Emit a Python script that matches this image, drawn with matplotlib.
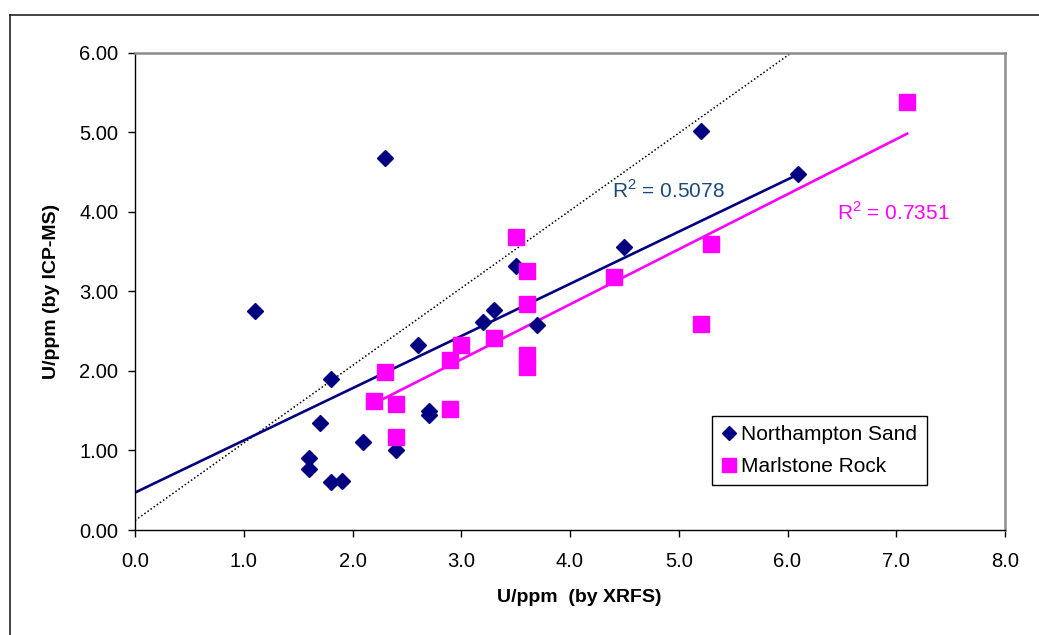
import numpy as np
import matplotlib
matplotlib.use("Agg")
import matplotlib.pyplot as plt
from matplotlib.lines import Line2D

plt.rcParams['font.family'] = ['Liberation Sans', 'DejaVu Sans']
plt.rcParams['mathtext.fontset'] = 'custom'
plt.rcParams['mathtext.rm'] = 'Liberation Sans'

# Northampton Sand (XRFS vs ICP-MS)
ns_x = [1.1, 2.3, 1.8, 1.7, 1.6, 1.6, 1.8, 1.9, 2.1, 2.4, 2.6, 2.7, 2.7,
        3.2, 3.3, 3.5, 3.7, 4.5, 5.2, 6.1]
ns_y = [2.75, 4.68, 1.90, 1.35, 0.90, 0.77, 0.60, 0.62, 1.10, 1.00, 2.33,
        1.50, 1.44, 2.61, 2.76, 3.32, 2.57, 3.55, 5.01, 4.47]

# Marlstone Rock
mr_x = [2.2, 2.3, 2.4, 2.4, 2.9, 2.9, 3.0, 3.3, 3.5, 3.6, 3.6, 3.6, 3.6,
        4.4, 5.2, 5.3, 7.1]
mr_y = [1.62, 1.98, 1.58, 1.17, 2.13, 1.52, 2.33, 2.41, 3.68, 3.26, 2.84,
        2.20, 2.05, 3.18, 2.59, 3.60, 5.38]

# trend lines and the dotted reference line
ns_fit_x = [0.0, 6.1]
ns_fit_y = [0.47, 4.47]
mr_fit_x = [2.2, 7.1]
mr_fit_y = [1.59, 4.98]
ref_x = [0.0, 6.04]
ref_y = [0.12, 6.0]

ns_r2 = "0.5078"
mr_r2 = "0.7351"

navy = '#000080'
pink = '#ff00ff'

W, H = 1039, 635
fig = plt.figure(figsize=(W / 100, H / 100), dpi=100)
ax = fig.add_axes([135 / W, 1 - 530 / H, 870 / W, 477.5 / H])

# outer chart frame (only top and left edges visible)
fig.add_artist(Line2D([10 / W, 1.0], [1 - 15 / H] * 2, color='#222222', lw=1.2))
fig.add_artist(Line2D([10 / W] * 2, [0.0, 1 - 15 / H], color='#222222', lw=1.2))

ax.plot(ref_x, ref_y, color='black', ls=(0, (1, 1.5)), lw=1.1, zorder=1)
ax.plot(ns_fit_x, ns_fit_y, color=navy, lw=1.9, zorder=2)
ax.plot(mr_fit_x, mr_fit_y, color=pink, lw=1.9, zorder=2)

ax.plot(ns_x, ns_y, ls='none', marker='D', ms=7.8, color=navy,
        label='Northampton Sand', zorder=3)
ax.plot(mr_x, mr_y, ls='none', marker='s', ms=11.3, color=pink,
        label='Marlstone Rock', zorder=3)

# R-squared labels, placed in pixel coordinates from the top-left
ax.text(612, H - 190, r'R$^2$ = ' + ns_r2, transform=None, color='#1c4a78',
        fontsize=15, va='center', ha='left')
ax.text(837, H - 212, r'R$^2$ = ' + mr_r2, transform=None, color=pink,
        fontsize=15, va='center', ha='left')

ax.set_xlim(0, 8)
ax.set_ylim(0, 6)
ax.set_xticks(np.arange(0, 8.1, 1.0))
ax.set_yticks(np.arange(0, 6.1, 1.0))
ax.set_xticklabels([f'{v:.1f}' for v in np.arange(0, 8.1, 1.0)])
ax.set_yticklabels([f'{v:.2f}' for v in np.arange(0, 6.1, 1.0)])
ax.tick_params(direction='out', length=5, width=1, labelsize=14.5)
ax.tick_params(axis='x', pad=11)
ax.tick_params(axis='y', pad=7)

for s in ['top', 'right']:
    ax.spines[s].set_color('#8c8c8c')
    ax.spines[s].set_linewidth(1.8)
for s in ['left', 'bottom']:
    ax.spines[s].set_color('black')
    ax.spines[s].set_linewidth(1.0)

ax.set_xlabel('U/ppm  (by XRFS)', fontsize=14, fontweight='bold')
ax.set_ylabel('U/ppm (by ICP-MS)', fontsize=14, fontweight='bold')
ax.xaxis.set_label_coords((579 - 135) / 870, -(598 - 530) / 477.5)
ax.yaxis.set_label_coords((52 - 135) / 870, 0.5)
ax.xaxis.label.set_va('center')
ax.yaxis.label.set_va('center')

leg = ax.legend(loc='upper left', bbox_to_anchor=((712 - 135) / 870, (530 - 416) / 477.5),
                borderaxespad=0, fancybox=False, framealpha=1, edgecolor='black',
                fontsize=15, handlelength=0.7, handletextpad=0.25,
                borderpad=0.45, labelspacing=0.6, markerscale=0.95)
leg.get_frame().set_linewidth(1.0)

fig.savefig('out.png', dpi=100)
